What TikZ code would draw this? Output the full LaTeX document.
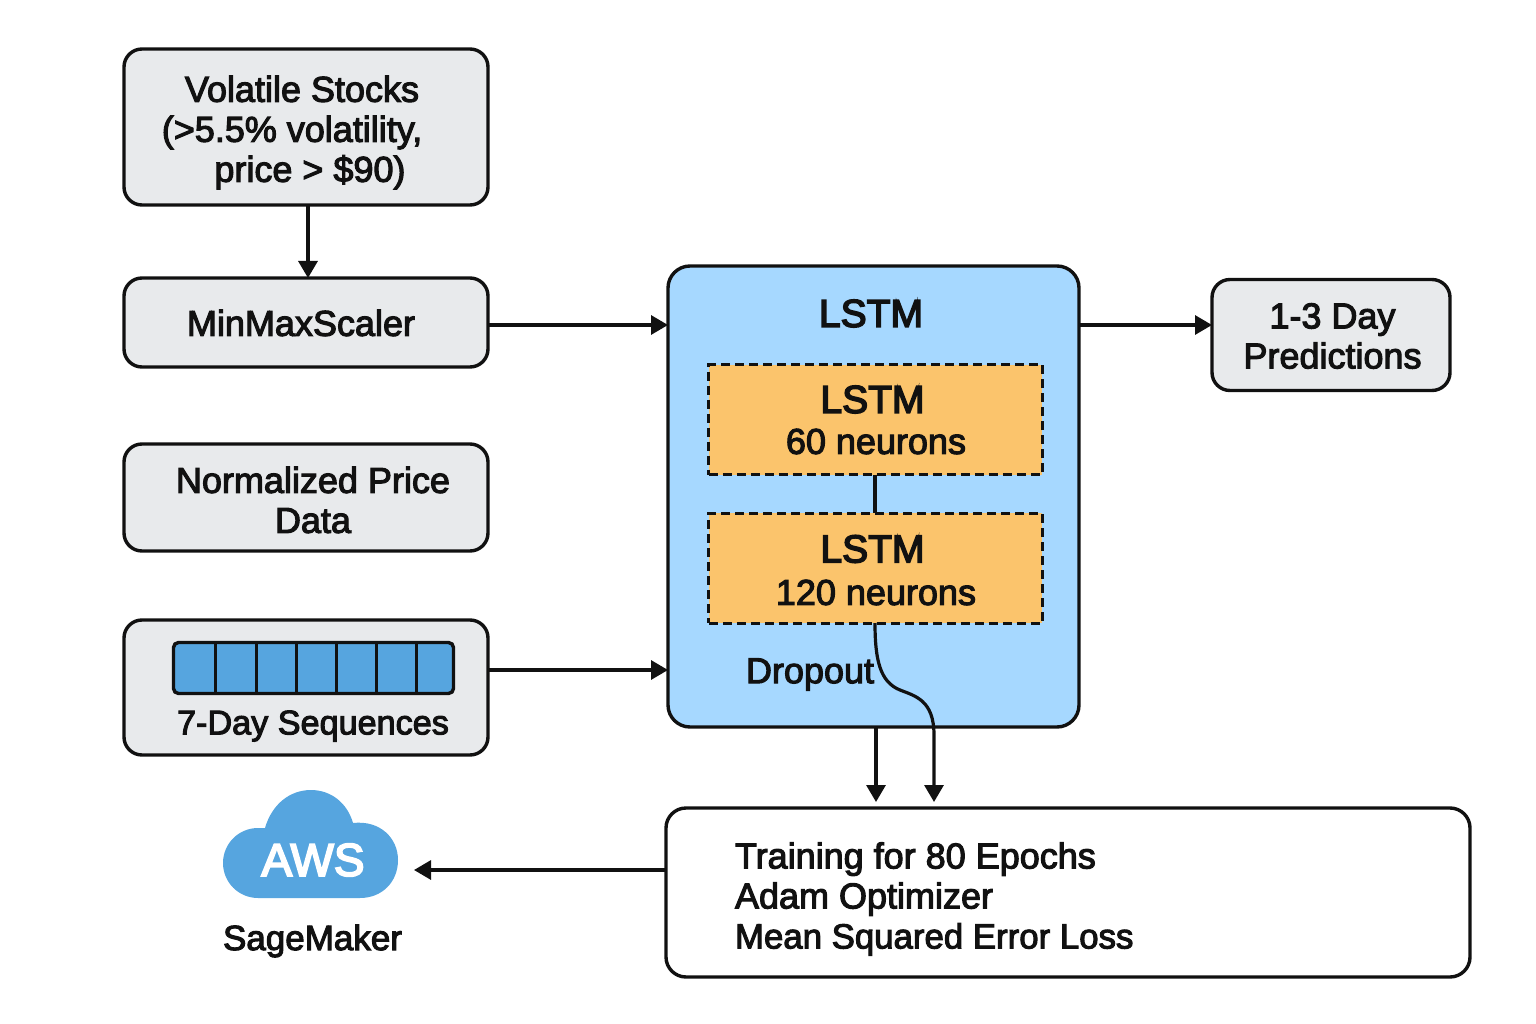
\documentclass[tikz,border=0pt]{standalone}
\usepackage{fontspec}
\setmainfont{Liberation Sans}[FakeBold=3]
\newfontfamily\bigfont{Liberation Sans}[FakeBold=4]
\usetikzlibrary{arrows.meta}
\definecolor{boxgray}{HTML}{E8EAEC}
\definecolor{lstmblue}{HTML}{A6D8FF}
\definecolor{layerorange}{HTML}{FBC46C}
\definecolor{cloudblue}{HTML}{56A5DF}
\definecolor{ink}{HTML}{111111}
\tikzset{
  every node/.style={text=ink,inner sep=0pt,outer sep=0pt},
  txt/.style={font=\fontsize{36}{40}\selectfont,align=center},
  big/.style={font=\bigfont\fontsize{39}{44}\selectfont,align=center},
  graybox/.style={draw=ink,line width=3.4pt,rounded corners=18pt,fill=boxgray},
  layerbox/.style={draw=ink,line width=3pt,dash pattern=on 9pt off 5pt,fill=layerorange,minimum width=333.5pt,minimum height=110pt},
  conn/.style={draw=ink,line width=3.2pt},
  arr/.style={conn,-{Triangle[length=17pt,width=19pt]}}
}
\begin{document}
\begin{tikzpicture}[x=1pt,y=-1pt]
\useasboundingbox (0,0) rectangle (1536,1024);
\fill[white] (0,0) rectangle (1536,1024);
% left column
\node[graybox,minimum width=364pt,minimum height=156pt] (vol) at (306,127) {};
\node[txt] (voltext) at (306,132.5) {\hspace*{-8pt}Volatile Stocks\\\hspace*{-28pt}(>5.5\% volatility,\\\hspace*{8pt}price > \$90)};
\node[graybox,minimum width=364pt,minimum height=89pt] (mm) at (306,322.5) {};
\node[txt] (mmtext) at (301,323) {MinMaxScaler};
\node[graybox,minimum width=364pt,minimum height=107pt] (norm) at (306,497.5) {};
\node[txt] (normtext) at (313,500) {Normalized Price\\Data};
\node[graybox,minimum width=364pt,minimum height=135pt] (seq) at (306,687.5) {};
\node[txt,font=\fontsize{34.2}{40}\selectfont] (seqlabel) at (313,726) {7-Day Sequences};
\node[draw=ink,line width=3.4pt,rounded corners=5pt,fill=cloudblue,minimum width=280pt,minimum height=51pt] (bar) at (313.5,668) {};
\foreach \i/\x in {1/215,2/256,3/296,4/336,5/376,6/416}
  \draw[ink,line width=3pt] (\x,643) -- (\x,693);
% LSTM block
\node[draw=ink,line width=3.4pt,rounded corners=22pt,fill=lstmblue,minimum width=411pt,minimum height=461pt] (lstm) at (873.5,496.5) {};
\node[big] (lstmtitle) at (871,313.5) {LSTM};
\node[layerbox] (la) at (875.7,419.5) {};
\node[big] (latitle) at (872.5,399.5) {LSTM};
\node[txt] (latext) at (876,441.5) {60 neurons};
\node[layerbox] (lb) at (875.7,568) {};
\node[big] (lbtitle) at (872.5,549) {LSTM};
\node[txt] (lbtext) at (876,592.5) {120 neurons};
\node[txt] (drop) at (810,674.5) {Dropout};
% output
\node[graybox,minimum width=238pt,minimum height=111pt] (pred) at (1331,335) {};
\node[txt] (predtext) at (1332.5,336) {1-3 Day\\Predictions};
\node[draw=ink,line width=3.4pt,rounded corners=20pt,fill=white,minimum width=804pt,minimum height=169pt] (train) at (1068,892.5) {};
\node[txt,align=left,anchor=west] (traintext) at (735,899) {Training for 80 Epochs\\Adam Optimizer\\{\fontsize{34.8}{40}\selectfont Mean Squared Error Loss}};
% cloud
\fill[cloudblue] (258,898) arc[start angle=270,end angle=90,radius=35pt] -- (265,828)
  .. controls (272,804) and (290,790) .. (311,790)
  .. controls (330,790) and (347,802) .. (353,823)
  .. controls (380,820) and (398,838) .. (398,860)
  .. controls (398,882) and (382,898) .. (360,898) -- cycle;
\node[font=\bigfont\fontsize{46}{50}\selectfont,text=white] (aws) at (313,860) {AWS};
\node[txt,font=\fontsize{35}{40}\selectfont] (sage) at (312.5,941) {SageMaker};
\coordinate (cloudR) at (414,870);
% connectors
\draw[arr] (vol.south -| 308,0) -- (mm.north -| 308,0);
\draw[arr] (mm.east |- 0,325) -- (lstm.west |- 0,325);
\draw[arr] (seq.east |- 0,670) -- (lstm.west |- 0,670);
\draw[arr] (lstm.east |- 0,325) -- (pred.west |- 0,325);
\draw[conn] (la.south -| 875,0) -- (lb.north -| 875,0);
\draw[arr,shorten >=6pt] (lstm.south -| 876,0) -- (train.north -| 876,0);
\draw[arr,shorten >=6pt] (lb.south -| 875,0) .. controls (875,660) and (880,682) .. (900,690) .. controls (915,696) and (934,700) .. (934,735) -- (train.north -| 934,0);
\draw[arr] (train.west |- cloudR) -- (cloudR);
\end{tikzpicture}
\end{document}
